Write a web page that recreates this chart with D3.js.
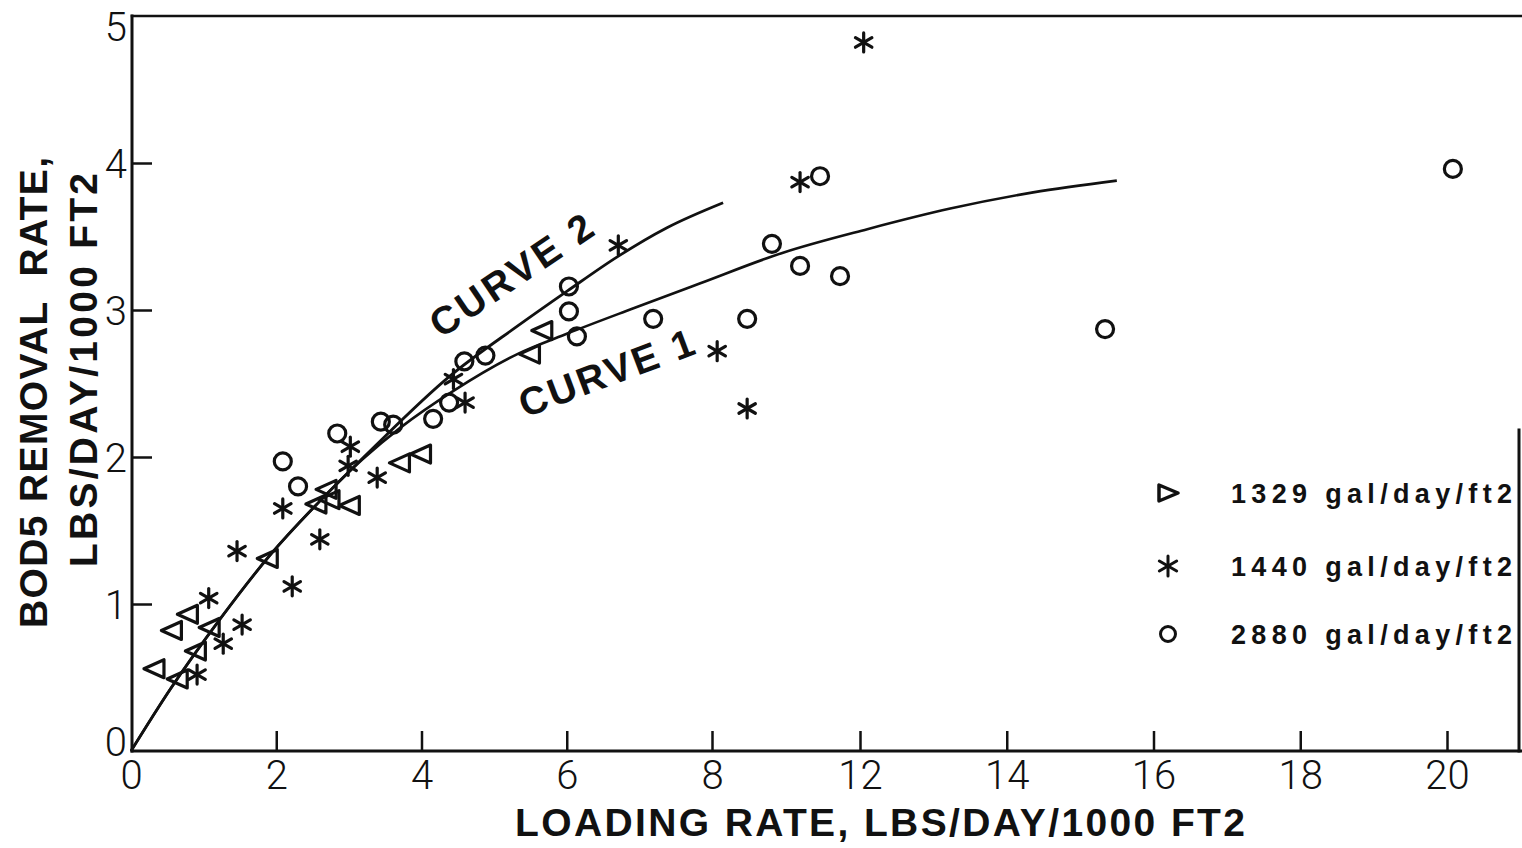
<!DOCTYPE html>
<html>
<head>
<meta charset="utf-8">
<script src="https://cdn.jsdelivr.net/npm/d3@7"></script>
<style>
  html, body { margin: 0; padding: 0; background: #fff; }
  svg { display: block; }
  .tick-label { font-family: Roboto, "DejaVu Sans", sans-serif; font-weight: 300; font-size: 40px; fill: #111; }
  .title { font-family: "Liberation Sans", Arial, sans-serif; font-weight: bold; fill: #111; }
</style>
</head>
<body>
<svg id="chart" width="1522" height="848"></svg>
<script>
// Loading rate (x) vs BOD5 removal rate (y), three hydraulic loadings
const triangleX = [0.33, 0.65, 0.90, 0.57, 0.79, 1.09, 1.89, 2.56, 2.70, 2.74, 3.02, 3.71, 4.00, 5.50, 5.67];
const triangleY = [0.56, 0.49, 0.68, 0.82, 0.93, 0.84, 1.31, 1.68, 1.78, 1.71, 1.67, 1.96, 2.02, 2.70, 2.86];

const starX = [0.91, 1.27, 1.53, 1.07, 1.46, 2.09, 2.22, 2.60, 3.02, 2.99, 3.39, 4.44, 4.60, 6.71, 8.14, 8.95, 10.38, 12.05];
const starY = [0.52, 0.73, 0.86, 1.04, 1.36, 1.65, 1.12, 1.44, 2.07, 1.94, 1.86, 2.53, 2.37, 3.44, 2.72, 2.33, 3.87, 4.82];

const circleX = [2.09, 2.30, 2.84, 3.44, 3.61, 4.16, 4.38, 4.59, 4.88, 6.03, 6.03, 6.14, 7.19, 8.95, 9.62, 10.38, 11.46, 10.92, 15.34, 20.08];
const circleY = [1.97, 1.80, 2.16, 2.24, 2.22, 2.26, 2.37, 2.65, 2.69, 3.16, 2.99, 2.82, 2.94, 2.94, 3.45, 3.30, 3.23, 3.91, 2.87, 3.96];

// Fitted curves
const curve1X = [0, 0.54, 1.23, 1.91, 2.60, 3.20, 3.71, 4.44, 5.32, 6.01, 6.91, 7.83, 9.92, 12.1, 13.23, 14.36, 15.5];
const curve1Y = [0, 0.42, 0.90, 1.33, 1.70, 1.99, 2.20, 2.45, 2.70, 2.84, 3.01, 3.18, 3.39, 3.55, 3.69, 3.80, 3.88];
const curve2X = [0, 0.54, 1.23, 1.91, 2.60, 3.33, 4.39, 5.32, 6.01, 6.69, 7.38, 8.30];
const curve2Y = [0, 0.42, 0.90, 1.33, 1.70, 2.06, 2.55, 2.89, 3.13, 3.36, 3.56, 3.73];

const xTickValues = [0, 2, 4, 6, 8, 12, 14, 16, 18, 20];
const yTickValues = [0, 1, 2, 3, 4, 5];
const legendLabels = ["1329 gal/day/ft2", "1440 gal/day/ft2", "2880 gal/day/ft2"];
const curveLabels = ["CURVE 1", "CURVE 2"];

const svg = d3.select("#chart");

// The x axis is ruled evenly but labelled 0..8 then 12..20, so the
// scale is piecewise: the 8-12 span takes one tick interval.
const x = d3.scaleLinear().domain([0, 8, 12, 20]).range([131, 712, 860, 1447]);
const y = d3.scaleLinear().domain([0, 5]).range([751, 16]);

const ink = "#111";

// Frame: left axis, bottom axis, top rule and a partial right rule
const frame = svg.append("g").attr("stroke", ink).attr("fill", "none").attr("stroke-linecap", "square");
frame.append("line").attr("x1", 132).attr("y1", y(5)).attr("x2", 132).attr("y2", y(0)).attr("stroke-width", 3);
frame.append("line").attr("x1", 132).attr("y1", y(0)).attr("x2", 1522).attr("y2", y(0)).attr("stroke-width", 3);
frame.append("line").attr("x1", 132).attr("y1", y(5)).attr("x2", 1522).attr("y2", y(5)).attr("stroke-width", 2.5);
frame.append("line").attr("x1", 1519).attr("y1", 430).attr("x2", 1519).attr("y2", y(0)).attr("stroke-width", 3);

// X axis ticks and labels
const xAxis = d3.axisBottom(x).tickValues(xTickValues).tickFormat(d3.format("d")).tickSize(-20).tickSizeOuter(0);
const gx = svg.append("g").attr("transform", `translate(0,${y(0)})`).call(xAxis);
gx.select(".domain").remove();
gx.selectAll(".tick line").attr("stroke", ink).attr("stroke-width", 2.5)
  .filter(d => d === 0).remove();
gx.selectAll(".tick text").attr("class", "tick-label").attr("y", 38).attr("dy", null);
gx.attr("font-size", null).attr("font-family", null);

// Y axis ticks and labels
const yAxis = d3.axisLeft(y).tickValues(yTickValues).tickFormat(d3.format("d")).tickSize(-20).tickSizeOuter(0);
const gy = svg.append("g").attr("transform", "translate(132,0)").call(yAxis);
gy.select(".domain").remove();
gy.selectAll(".tick line").attr("stroke", ink).attr("stroke-width", 2.5)
  .filter(d => d === 0 || d === 5).remove();
gy.selectAll(".tick text").attr("class", "tick-label").attr("x", -5)
  .attr("dy", d => d === 0 ? "0.1em" : d === 5 ? "0.6em" : "0.35em");
gy.attr("font-size", null).attr("font-family", null);

// Curves
const line = d3.line().x(d => x(d[0])).y(d => y(d[1])).curve(d3.curveMonotoneX);
const c1 = curve1X.map((v, i) => [v, curve1Y[i]]);
const c2 = curve2X.map((v, i) => [v, curve2Y[i]]);
svg.append("path").attr("d", line(c1)).attr("fill", "none").attr("stroke", ink).attr("stroke-width", 2.6);
svg.append("path").attr("d", line(c2)).attr("fill", "none").attr("stroke", ink).attr("stroke-width", 2.8);

// Marker shapes
const triLeft = "M-11,0 L9,-9 L9,9 Z";
const triRight = "M10,0 L-9,-8 L-9,8 Z";
function drawStar(g, r) {
  [90, 30, 150].forEach(a => {
    const rad = a * Math.PI / 180;
    g.append("line")
      .attr("x1", -r * Math.cos(rad)).attr("y1", -r * Math.sin(rad))
      .attr("x2", r * Math.cos(rad)).attr("y2", r * Math.sin(rad));
  });
}

const marks = svg.append("g").attr("stroke", ink).attr("stroke-width", 3.2).attr("fill", "none")
  .attr("stroke-linejoin", "round").attr("stroke-linecap", "round");

marks.selectAll(".tri").data(triangleX.map((v, i) => [v, triangleY[i]])).join("path")
  .attr("class", "tri").attr("d", triLeft)
  .attr("transform", d => `translate(${x(d[0])},${y(d[1])})`);

marks.selectAll(".star").data(starX.map((v, i) => [v, starY[i]])).join("g")
  .attr("class", "star")
  .attr("transform", d => `translate(${x(d[0])},${y(d[1])})`)
  .each(function () { drawStar(d3.select(this), 9.5); });

marks.selectAll(".circ").data(circleX.map((v, i) => [v, circleY[i]])).join("circle")
  .attr("class", "circ").attr("r", 8.5)
  .attr("cx", d => x(d[0])).attr("cy", d => y(d[1]));

// Curve annotations, lettered along each curve
svg.append("text").attr("class", "title").attr("font-size", 39)
  .attr("transform", "translate(525,418) rotate(-20.6)")
  .attr("textLength", 184).attr("lengthAdjust", "spacing")
  .text(curveLabels[0]);
svg.append("text").attr("class", "title").attr("font-size", 39)
  .attr("transform", "translate(441,339) rotate(-34)")
  .attr("textLength", 188).attr("lengthAdjust", "spacing")
  .text(curveLabels[1]);

// Legend
const legend = svg.append("g");
const legendY = [493, 566, 634];
legend.append("path").attr("d", triRight).attr("transform", `translate(1168,${legendY[0]})`)
  .attr("fill", "none").attr("stroke", ink).attr("stroke-width", 3.5).attr("stroke-linejoin", "round");
const ls = legend.append("g").attr("transform", `translate(1168,${legendY[1]})`)
  .attr("stroke", ink).attr("stroke-width", 3).attr("stroke-linecap", "round");
drawStar(ls, 10);
legend.append("circle").attr("cx", 1168).attr("cy", legendY[2]).attr("r", 7.5)
  .attr("fill", "none").attr("stroke", ink).attr("stroke-width", 3);
legend.selectAll(".ltext").data(legendLabels).join("text")
  .attr("class", "title ltext").attr("font-size", 27)
  .attr("x", 1231).attr("y", (d, i) => legendY[i] + 10)
  .attr("textLength", 281).attr("lengthAdjust", "spacing")
  .text(d => d);

// Axis titles
svg.append("text").attr("class", "title").attr("font-size", 39)
  .attr("x", 515).attr("y", 836)
  .attr("textLength", 730).attr("lengthAdjust", "spacing")
  .text("LOADING RATE, LBS/DAY/1000 FT2");

svg.append("text").attr("class", "title").attr("font-size", 39)
  .attr("transform", "translate(47,628) rotate(-90)")
  .attr("textLength", 471).attr("lengthAdjust", "spacing")
  .style("white-space", "pre")
  .text("BOD5 REMOVAL  RATE,");
svg.append("text").attr("class", "title").attr("font-size", 39)
  .attr("transform", "translate(97,567) rotate(-90)")
  .attr("textLength", 394).attr("lengthAdjust", "spacing")
  .text("LBS/DAY/1000 FT2");
</script>
</body>
</html>
